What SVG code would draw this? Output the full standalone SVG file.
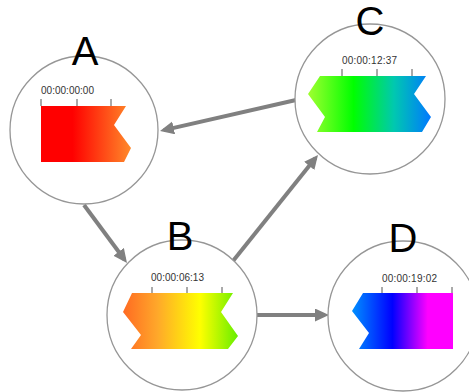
<svg xmlns="http://www.w3.org/2000/svg" width="469" height="392" viewBox="0 0 469 392">
  <style>
    .ring { fill: #ffffff; stroke: #969696; stroke-width: 1.3; }
    .label { font-family: "Liberation Sans", Arial, sans-serif; font-size: 40px; fill: #000000; text-anchor: middle; }
    .time { font-family: "Liberation Sans", Arial, sans-serif; font-size: 10px; fill: #333333; }
    .tick { stroke: #555555; stroke-width: 1; }
    .link { fill: none; stroke: #808080; stroke-width: 4; marker-end: url(#head); }
  </style>
  <defs>
    <marker id="head" markerUnits="userSpaceOnUse" markerWidth="16" markerHeight="14" refX="10" refY="6.5" orient="auto">
      <path d="M0,0 L14,6.5 L0,13 Z" fill="#808080"/>
    </marker>
    <linearGradient id="gA" x1="0" y1="0" x2="1" y2="0">
      <stop offset="0" stop-color="#ff0000"/>
      <stop offset="0.35" stop-color="#ff0000"/>
      <stop offset="1" stop-color="#ff8a2a"/>
    </linearGradient>
    <linearGradient id="gB" x1="0" y1="0" x2="1" y2="0">
      <stop offset="0" stop-color="#ff6a22"/>
      <stop offset="0.3" stop-color="#ffa82a"/>
      <stop offset="0.67" stop-color="#ffff00"/>
      <stop offset="1" stop-color="#66ee00"/>
    </linearGradient>
    <linearGradient id="gC" x1="0" y1="0" x2="1" y2="0">
      <stop offset="0" stop-color="#a0ff30"/>
      <stop offset="0.37" stop-color="#00ff00"/>
      <stop offset="0.7" stop-color="#00c8b0"/>
      <stop offset="1" stop-color="#0078ff"/>
    </linearGradient>
    <linearGradient id="gD" x1="0" y1="0" x2="1" y2="0">
      <stop offset="0" stop-color="#0090ff"/>
      <stop offset="0.4" stop-color="#0000ff"/>
      <stop offset="0.75" stop-color="#ff00ff"/>
      <stop offset="1" stop-color="#ff00ff"/>
    </linearGradient>
  </defs>

  <!-- connectors -->
  <g id="connectors">
    <line class="link" x1="296" y1="100" x2="163.9" y2="130.1"/>
    <line class="link" x1="84" y1="205" x2="124.6" y2="259.8"/>
    <line class="link" x1="233" y1="261" x2="315.5" y2="158.1"/>
    <line class="link" x1="257" y1="315" x2="325" y2="315"/>
  </g>

  <!-- node A -->
  <g id="node-A">
    <circle class="ring" cx="84" cy="130" r="74"/>
    <path d="M41,106 H126 L114,125 L131,148 L124,162 H41 Z" fill="url(#gA)"/>
    <line class="tick" x1="41" y1="99" x2="41" y2="106"/>
    <line class="tick" x1="77" y1="99" x2="77" y2="106"/>
    <line class="tick" x1="111" y1="99" x2="111" y2="106"/>
    <text class="time" x="41" y="94" textLength="53">00:00:00:00</text>
    <text class="label" x="85" y="65">A</text>
  </g>

  <!-- node B -->
  <g id="node-B">
    <circle class="ring" cx="182" cy="315" r="75"/>
    <path d="M132,293 H233 L221,312 L238,336 L228,349 H131 L141,335 L123,312 Z" fill="url(#gB)"/>
    <line class="tick" x1="152" y1="287" x2="152" y2="293"/>
    <line class="tick" x1="187" y1="287" x2="187" y2="293"/>
    <line class="tick" x1="222" y1="287" x2="222" y2="293"/>
    <text class="time" x="151" y="281" textLength="53">00:00:06:13</text>
    <text class="label" x="180" y="250">B</text>
  </g>

  <!-- node C -->
  <g id="node-C">
    <circle class="ring" cx="370" cy="99" r="75"/>
    <path d="M320,76 H426 L414,94 L431,117 L422,132 H317 L325,117 L308,94 Z" fill="url(#gC)"/>
    <line class="tick" x1="342" y1="69" x2="342" y2="76"/>
    <line class="tick" x1="377" y1="69" x2="377" y2="76"/>
    <line class="tick" x1="412" y1="69" x2="412" y2="76"/>
    <text class="time" x="342" y="64" textLength="55">00:00:12:37</text>
    <text class="label" x="370" y="35">C</text>
  </g>

  <!-- node D -->
  <g id="node-D">
    <circle class="ring" cx="403" cy="316" r="75"/>
    <path d="M363,293 H453 V349 H359 L369,333 L352,311 Z" fill="url(#gD)"/>
    <line class="tick" x1="382" y1="287" x2="382" y2="293"/>
    <line class="tick" x1="417" y1="287" x2="417" y2="293"/>
    <line class="tick" x1="452" y1="287" x2="452" y2="293"/>
    <text class="time" x="382" y="282" textLength="55">00:00:19:02</text>
    <text class="label" x="403" y="252">D</text>
  </g>
</svg>
